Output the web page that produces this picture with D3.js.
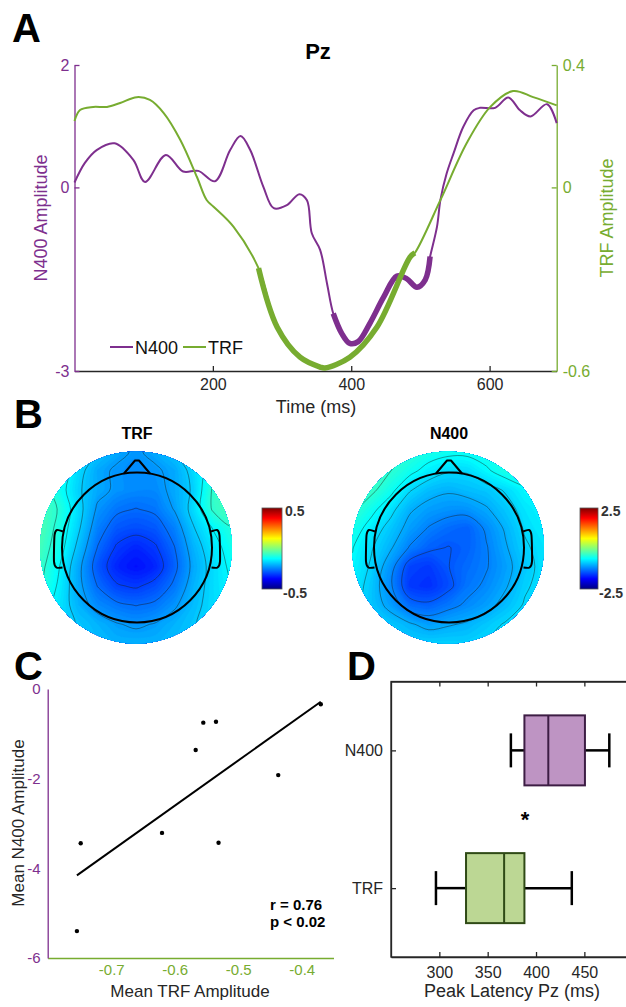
<!DOCTYPE html>
<html>
<head>
<meta charset="utf-8">
<script src="https://cdn.jsdelivr.net/npm/d3@7"></script>
<style>
  body { margin: 0; background: #fff; }
  svg { display: block; font-family: "Liberation Sans", Arial, sans-serif; }
</style>
</head>
<body>
<div id="chart"></div>
<script>
// ---------- A: Pz waveforms ----------
var n400Time = [0,15,32,58,85,102,132,157,179,203,225,240,254,273,288,307,325,336,343,355,365,374,386,398,410,427,447,466,480,495,507,514,524,529,538,548,562,577,586,608,627,644,659,683,697];
var n400Amp  = [0.08,0.40,0.61,0.72,0.45,0.09,0.53,0.26,0.27,0.10,0.61,0.84,0.61,0.01,-0.34,-0.29,-0.11,-0.21,-0.75,-1.02,-1.57,-2.06,-2.38,-2.55,-2.52,-2.22,-1.79,-1.45,-1.49,-1.63,-1.51,-1.13,-0.64,-0.20,0.23,0.56,0.99,1.26,1.30,1.30,1.47,1.26,1.16,1.36,1.05];
var trfTime = [0,8,27,47,66,90,109,129,153,177,191,201,230,266,293,326,355,362,398,437,485,492,529,567,601,634,663,697];
var trfAmp  = [0.217,0.253,0.263,0.263,0.276,0.295,0.286,0.243,0.155,0.034,-0.041,-0.063,-0.129,-0.264,-0.457,-0.555,-0.587,-0.590,-0.555,-0.457,-0.228,-0.214,-0.041,0.145,0.263,0.315,0.295,0.268];
var n400Sig = [374, 514];   // thick (significant) stretch
var trfSig = [266, 492];
var timeTicks = [200, 400, 600];
var n400Ticks = [-3, 0, 2];
var trfTicks = [-0.6, 0, 0.4];

// ---------- B: scalp maps, 11x11 grid over the disk, rows top -> bottom ----------
var trfTopo = [
  [-0.08,-0.10,-0.14,-0.18,-0.21,-0.23,-0.21,-0.18,-0.14,-0.10,-0.08],
  [-0.06,-0.09,-0.16,-0.21,-0.23,-0.24,-0.23,-0.21,-0.16,-0.10,-0.07],
  [-0.05,-0.11,-0.17,-0.21,-0.23,-0.24,-0.24,-0.21,-0.17,-0.08,-0.04],
  [-0.05,-0.09,-0.16,-0.23,-0.26,-0.27,-0.26,-0.22,-0.16,-0.08,-0.05],
  [-0.05,-0.10,-0.17,-0.25,-0.29,-0.30,-0.29,-0.25,-0.18,-0.13,-0.09],
  [-0.06,-0.11,-0.19,-0.27,-0.32,-0.34,-0.32,-0.27,-0.20,-0.15,-0.11],
  [-0.07,-0.13,-0.21,-0.29,-0.34,-0.36,-0.34,-0.28,-0.21,-0.16,-0.12],
  [-0.08,-0.14,-0.21,-0.27,-0.31,-0.32,-0.30,-0.26,-0.20,-0.16,-0.13],
  [-0.11,-0.15,-0.20,-0.24,-0.26,-0.27,-0.26,-0.23,-0.19,-0.16,-0.14],
  [-0.14,-0.16,-0.18,-0.20,-0.22,-0.23,-0.22,-0.20,-0.18,-0.16,-0.15],
  [-0.16,-0.17,-0.18,-0.19,-0.20,-0.20,-0.20,-0.19,-0.18,-0.17,-0.16]
];
var n400Topo = [
  [-0.25,-0.25,-0.30,-0.40,-0.50,-0.55,-0.55,-0.50,-0.45,-0.45,-0.50],
  [-0.20,-0.25,-0.40,-0.55,-0.70,-0.80,-0.80,-0.65,-0.50,-0.45,-0.50],
  [-0.20,-0.35,-0.55,-0.80,-0.95,-1.00,-0.95,-0.90,-0.80,-0.65,-0.60],
  [-0.35,-0.55,-0.75,-1.00,-1.10,-1.15,-1.15,-1.05,-0.90,-0.75,-0.65],
  [-0.50,-0.70,-0.90,-1.10,-1.25,-1.35,-1.40,-1.20,-1.00,-0.80,-0.70],
  [-0.60,-0.80,-1.00,-1.25,-1.40,-1.45,-1.40,-1.25,-1.05,-0.85,-0.75],
  [-0.65,-0.85,-1.15,-1.55,-1.60,-1.45,-1.35,-1.25,-1.10,-0.90,-0.75],
  [-0.70,-0.90,-1.20,-1.60,-1.65,-1.50,-1.30,-1.20,-1.05,-0.85,-0.75],
  [-0.75,-0.90,-1.10,-1.35,-1.40,-1.30,-1.20,-1.10,-0.95,-0.80,-0.75],
  [-0.80,-0.85,-0.90,-1.00,-1.10,-1.05,-1.00,-0.90,-0.80,-0.78,-0.75],
  [-0.80,-0.80,-0.85,-0.85,-0.85,-0.85,-0.85,-0.80,-0.80,-0.75,-0.75]
];
var trfLimits = [-0.5, 0.5];
var n400Limits = [-2.5, 2.5];

// ---------- C: per-subject means ----------
var meanTRF  = [-0.748,-0.754,-0.620,-0.567,-0.555,-0.535,-0.531,-0.437,-0.370];
var meanN400 = [-3.44,-5.40,-3.21,-1.36,-0.75,-0.73,-3.43,-1.92,-0.34];
var trfAxisTicks = [-0.7, -0.6, -0.5, -0.4];
var n400AxisTicks = [-6, -4, -2, 0];

// ---------- D: peak latency ----------
var boxLabels = ["TRF", "N400"];
var latMin = [296.5, 374];
var latQ1  = [327.6, 388];
var latMed = [367, 412.7];
var latQ3  = [388, 450.6];
var latMax = [437, 475.8];
var latencyTicks = [300, 350, 400, 450];

var purple = "#7e2f8e", green = "#77ac30", ink = "#262626";
var plain = function(d) { return String(d); };
var svg = d3.select("#chart").append("svg").attr("width", 626).attr("height", 1007);

function styleAxis(g, color, size) {
  g.attr("font-family", null).attr("font-size", null);
  g.select(".domain").attr("stroke", color).attr("stroke-width", 1.3);
  g.selectAll(".tick line").attr("stroke", color).attr("stroke-width", 1.3);
  g.selectAll(".tick text").attr("fill", color).style("font-size", (size || 16) + "px");
}
function panelLetter(t, x, y) {
  svg.append("text").attr("x", x).attr("y", y).text(t)
    .style("font-size", "40px").style("font-weight", "bold");
}

// ================= A =================
var x = d3.scaleLinear().domain([0, 697]).range([74.5, 556.7]),
    yL = d3.scaleLinear().domain([-3, 2]).range([371, 65]),
    yR = d3.scaleLinear().domain([-0.6, 0.4]).range([371, 65]);
var curve = d3.curveCatmullRom.alpha(0.5);
var n400Pts = n400Time.map(function(t, i) { return [t, n400Amp[i]]; }),
    trfPts = trfTime.map(function(t, i) { return [t, trfAmp[i]]; });
var lineL = d3.line().x(function(d) { return x(d[0]); }).y(function(d) { return yL(d[1]); }).curve(curve),
    lineR = d3.line().x(function(d) { return x(d[0]); }).y(function(d) { return yR(d[1]); }).curve(curve);

svg.append("g").attr("transform", "translate(0,371)")
  .call(d3.axisBottom(x).tickValues(timeTicks).tickFormat(plain).tickSizeInner(-5).tickSizeOuter(0).tickPadding(8))
  .call(styleAxis, ink);
svg.append("g").attr("transform", "translate(74.5,0)")
  .call(d3.axisLeft(yL).tickValues(n400Ticks).tickFormat(plain).tickSizeInner(-5).tickSizeOuter(0).tickPadding(5))
  .call(styleAxis, purple);
svg.append("g").attr("transform", "translate(556.7,0)")
  .call(d3.axisRight(yR).tickValues(trfTicks).tickFormat(plain).tickSizeInner(-5).tickSizeOuter(0).tickPadding(6))
  .call(styleAxis, green);

svg.append("path").attr("d", lineL(n400Pts)).attr("fill", "none").attr("stroke", purple).attr("stroke-width", 2);
svg.append("path").attr("d", lineL(n400Pts.filter(function(d) { return d[0] >= n400Sig[0] && d[0] <= n400Sig[1]; })))
  .attr("fill", "none").attr("stroke", purple).attr("stroke-width", 5.5);
svg.append("path").attr("d", lineR(trfPts)).attr("fill", "none").attr("stroke", green).attr("stroke-width", 2);
svg.append("path").attr("d", lineR(trfPts.filter(function(d) { return d[0] >= trfSig[0] && d[0] <= trfSig[1]; })))
  .attr("fill", "none").attr("stroke", green).attr("stroke-width", 5.5);

svg.append("text").attr("x", 318).attr("y", 59).attr("text-anchor", "middle").text("Pz")
  .style("font-size", "22px").style("font-weight", "bold");
svg.append("text").attr("x", 316).attr("y", 413).attr("text-anchor", "middle").text("Time (ms)")
  .style("font-size", "18px").attr("fill", ink);
svg.append("text").attr("transform", "translate(47,218) rotate(-90)").attr("text-anchor", "middle")
  .text("N400 Amplitude").style("font-size", "18px").attr("fill", purple);
svg.append("text").attr("transform", "translate(613,218) rotate(-90)").attr("text-anchor", "middle")
  .text("TRF Amplitude").style("font-size", "18px").attr("fill", green);

var legend = [{ name: "N400", color: purple, x: 110 }, { name: "TRF", color: green, x: 183 }];
legend.forEach(function(l) {
  svg.append("line").attr("x1", l.x).attr("x2", l.x + 23).attr("y1", 347).attr("y2", 347)
    .attr("stroke", l.color).attr("stroke-width", 2);
  svg.append("text").attr("x", l.x + 25).attr("y", 353.5).text(l.name).style("font-size", "18px").attr("fill", "#111");
});
panelLetter("A", 12, 42);

// ================= B =================
var jet = d3.scaleLinear().domain([0, 0.125, 0.375, 0.625, 0.875, 1])
  .range(["#000080", "#0000ff", "#00ffff", "#ffff00", "#ff0000", "#800000"]).clamp(true);

var defs = svg.append("defs");
var grad = defs.append("linearGradient").attr("id", "jetGrad").attr("x1", 0).attr("y1", 1).attr("x2", 0).attr("y2", 0);
jet.domain().forEach(function(s) { grad.append("stop").attr("offset", s).attr("stop-color", jet(s)); });

function drawTopo(cx, cy, grid, lim, title, cbX, cbW) {
  var n = grid.length, R = 96, values = d3.merge(grid);
  var gx = d3.scaleLinear().domain([0.5, n - 0.5]).range([cx - R, cx + R]),
      gy = d3.scaleLinear().domain([0.5, n - 0.5]).range([cy - R, cy + R]),
      norm = d3.scaleLinear().domain(lim).range([0, 1]);
  var ring = d3.line().x(function(p) { return gx(p[0]); }).y(function(p) { return gy(p[1]); })
    .curve(d3.curveCatmullRomClosed.alpha(0.5));
  var toPath = function(c) {
    return c.coordinates.map(function(poly) {
      return poly.map(function(r) { return ring(r.slice(0, -1)); }).join("");
    }).join("");
  };
  defs.append("clipPath").attr("id", "clip" + title)
    .append("circle").attr("cx", cx).attr("cy", cy).attr("r", R);
  var g = svg.append("g").attr("clip-path", "url(#clip" + title + ")");
  var bandStep = (lim[1] - lim[0]) / 120;
  var bands = d3.contours().size([n, n]).thresholds(d3.range(lim[0], lim[1], bandStep))(values);
  g.selectAll("path.band").data(bands).join("path").attr("class", "band")
    .attr("d", toPath)
    .attr("fill", function(d) { return jet(norm(d.value + bandStep / 2)); })
    .attr("stroke", function(d) { return jet(norm(d.value + bandStep / 2)); })
    .attr("stroke-width", 0.6);
  var ext = d3.extent(values);
  var levels = d3.range(1, 7).map(function(k) { return ext[0] + k * (ext[1] - ext[0]) / 7; });
  g.selectAll("path.iso").data(d3.contours().size([n, n]).thresholds(levels)(values)).join("path")
    .attr("class", "iso").attr("d", toPath)
    .attr("fill", "none").attr("stroke", "#1a1a1a").attr("stroke-width", 0.6).attr("stroke-opacity", 0.75);

  // head, nose, ears
  var hr = 75, hx = cx + 1;
  var head = svg.append("g").attr("fill", "none").attr("stroke", "#000").attr("stroke-width", 2);
  head.append("circle").attr("cx", hx).attr("cy", cy).attr("r", hr);
  head.append("path").attr("d", d3.line()([[hx - 13, cy - 74], [hx - 2, cy - 87], [hx + 2, cy - 87], [hx + 13, cy - 74]]))
    .attr("stroke-linejoin", "round");
  var ear = d3.line().curve(d3.curveCardinal.tension(0.3));
  [-1, 1].forEach(function(s) {
    head.append("path").attr("d", ear([[hx + s * 74, cy - 16], [hx + s * 80, cy - 17.5], [hx + s * 82.5, cy - 12],
      [hx + s * 83, cy + 14], [hx + s * 80.5, cy + 20], [hx + s * 74.5, cy + 20]]));
  });

  svg.append("text").attr("x", cx + 1).attr("y", 439).attr("text-anchor", "middle").text(title)
    .style("font-size", "16px").style("font-weight", "bold");
  svg.append("rect").attr("x", cbX).attr("y", 508).attr("width", cbW).attr("height", 81)
    .attr("fill", "url(#jetGrad)").attr("stroke", "#555").attr("stroke-width", 0.8);
  svg.append("text").attr("x", cbX + cbW + 3).attr("y", 516).text(String(lim[1]))
    .style("font-size", "14px").style("font-weight", "bold").attr("fill", "#333");
  svg.append("text").attr("x", cbX + cbW + 1).attr("y", 598).text(String(lim[0]))
    .style("font-size", "14px").style("font-weight", "bold").attr("fill", "#333");
}
drawTopo(136, 547.5, trfTopo, trfLimits, "TRF", 262, 20);
drawTopo(448, 547.5, n400Topo, n400Limits, "N400", 580, 18);
panelLetter("B", 14, 428);

// ================= C =================
var xC = d3.scaleLinear().domain([-0.8, -0.35]).range([47.7, 333.5]),
    yC = d3.scaleLinear().domain([-6, 0]).range([958, 689]);
svg.append("g").attr("transform", "translate(0,958)")
  .call(d3.axisBottom(xC).tickValues(trfAxisTicks).tickFormat(plain).tickSizeInner(0).tickSizeOuter(0).tickPadding(6))
  .call(styleAxis, green, 15);
svg.append("g").attr("transform", "translate(47.7,0)")
  .call(d3.axisLeft(yC).tickValues(n400AxisTicks).tickFormat(plain).tickSizeInner(0).tickSizeOuter(0).tickPadding(7))
  .call(styleAxis, purple, 15);

var mx = d3.mean(meanTRF), my = d3.mean(meanN400),
    sxy = d3.sum(meanTRF, function(v, i) { return (v - mx) * (meanN400[i] - my); }),
    sxx = d3.sum(meanTRF, function(v) { return (v - mx) * (v - mx); }),
    slope = sxy / sxx, icpt = my - slope * mx,
    xr = d3.extent(meanTRF);
svg.append("line").attr("x1", xC(xr[0])).attr("y1", yC(icpt + slope * xr[0]))
  .attr("x2", xC(xr[1])).attr("y2", yC(icpt + slope * xr[1]))
  .attr("stroke", "#000").attr("stroke-width", 2);
svg.selectAll("circle.pt").data(meanTRF).join("circle").attr("class", "pt")
  .attr("cx", function(d) { return xC(d); })
  .attr("cy", function(d, i) { return yC(meanN400[i]); })
  .attr("r", 2.2).attr("fill", "#000");

svg.append("text").attr("x", 270).attr("y", 910).text("r = 0.76").style("font-size", "15px").style("font-weight", "bold");
svg.append("text").attr("x", 270).attr("y", 927).text("p < 0.02").style("font-size", "15px").style("font-weight", "bold");
svg.append("text").attr("x", 190).attr("y", 997).attr("text-anchor", "middle").text("Mean TRF Amplitude")
  .style("font-size", "17px").attr("fill", ink);
svg.append("text").attr("transform", "translate(24,823) rotate(-90)").attr("text-anchor", "middle")
  .text("Mean N400 Amplitude").style("font-size", "17px").attr("fill", ink);
panelLetter("C", 14, 680);

// ================= D =================
var xD = d3.scaleLinear().domain([250, 500]).range([391, 632.7]),
    yD = d3.scaleLinear().domain([0.5, 2.5]).range([957, 681.5]);
var boxFill = ["#bcd794", "#be94c3"], boxEdge = ["#2f4a16", "#3d1d44"];

svg.append("rect").attr("x", 391).attr("y", 681.5).attr("width", 241.7).attr("height", 275.5)
  .attr("fill", "none").attr("stroke", ink).attr("stroke-width", 1.3);
svg.append("g").attr("transform", "translate(0,957)")
  .call(d3.axisBottom(xD).tickValues(latencyTicks).tickFormat(plain).tickSizeInner(-5).tickSizeOuter(0).tickPadding(10))
  .call(styleAxis, ink);
svg.append("g").attr("transform", "translate(0,681.5)")
  .call(d3.axisTop(xD).tickValues(latencyTicks).tickFormat("").tickSizeInner(-5).tickSizeOuter(0))
  .call(styleAxis, ink);
svg.append("g").attr("transform", "translate(391,0)")
  .call(d3.axisLeft(yD).tickValues([1, 2]).tickFormat(function(d) { return boxLabels[d - 1]; })
    .tickSizeInner(-5).tickSizeOuter(0).tickPadding(8))
  .call(styleAxis, ink);

boxLabels.forEach(function(name, i) {
  var yc = yD(i + 1), g = svg.append("g");
  g.append("line").attr("x1", xD(latMin[i])).attr("x2", xD(latQ1[i])).attr("y1", yc).attr("y2", yc)
    .attr("stroke", "#000").attr("stroke-width", 2.5);
  g.append("line").attr("x1", xD(latQ3[i])).attr("x2", xD(latMax[i])).attr("y1", yc).attr("y2", yc)
    .attr("stroke", "#000").attr("stroke-width", 2.5);
  [latMin[i], latMax[i]].forEach(function(v) {
    g.append("line").attr("x1", xD(v)).attr("x2", xD(v)).attr("y1", yc - 17).attr("y2", yc + 17)
      .attr("stroke", "#000").attr("stroke-width", 2.5);
  });
  g.append("rect").attr("x", xD(latQ1[i])).attr("y", yc - 35)
    .attr("width", xD(latQ3[i]) - xD(latQ1[i])).attr("height", 70)
    .attr("fill", boxFill[i]).attr("stroke", boxEdge[i]).attr("stroke-width", 2);
  g.append("line").attr("x1", xD(latMed[i])).attr("x2", xD(latMed[i])).attr("y1", yc - 35).attr("y2", yc + 35)
    .attr("stroke", boxEdge[i]).attr("stroke-width", 2);
});
svg.append("text").attr("x", 525).attr("y", 827).attr("text-anchor", "middle").text("*")
  .style("font-size", "22px").style("font-weight", "bold");
svg.append("text").attr("x", 512).attr("y", 997).attr("text-anchor", "middle").text("Peak Latency Pz (ms)")
  .style("font-size", "18px").attr("fill", ink);
panelLetter("D", 347, 680);
</script>
</body>
</html>
